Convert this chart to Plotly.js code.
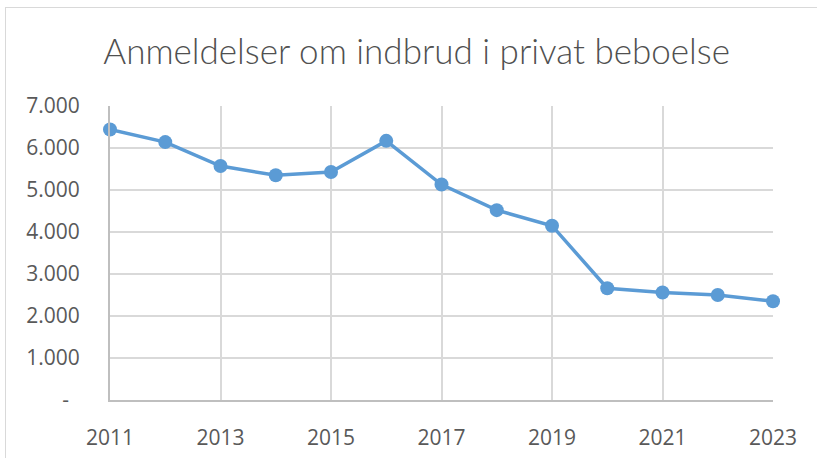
<!DOCTYPE html>
<html>
<head>
<meta charset="utf-8">
<script src="https://cdn.plot.ly/plotly-3.0.1.min.js"></script>
<style>
  html, body { margin: 0; padding: 0; background: #fff; overflow: hidden; }
  #frame { position: absolute; left: 5px; top: 7px; width: 830px; height: 470px; border: 1px solid #d9d9d9; box-sizing: border-box; pointer-events: none; z-index: 2; }
  #chart { position: absolute; left: 0; top: 0; width: 817px; height: 458px; }
</style>
</head>
<body>
<div id="chart"></div>
<div id="frame"></div>
<script>
const years = [2011, 2012, 2013, 2014, 2015, 2016, 2017, 2018, 2019, 2020, 2021, 2022, 2023];
const reports = [6440, 6140, 5570, 5350, 5430, 6170, 5130, 4520, 4150, 2660, 2560, 2500, 2350];
const xTickVals = [2011, 2013, 2015, 2017, 2019, 2021, 2023];
const yTickVals = [0, 1000, 2000, 3000, 4000, 5000, 6000, 7000];
const yTickText = ['-\u00a0\u00a0', '1.000', '2.000', '3.000', '4.000', '5.000', '6.000', '7.000'];
const titleText = 'Anmeldelser om indbrud i privat beboelse';

const tickFont = '"Open Sans", "Liberation Sans", sans-serif';
const titleFont = 'Lato, "Open Sans", sans-serif';

Plotly.newPlot('chart', [{
  x: years,
  y: reports,
  type: 'scatter',
  mode: 'lines+markers',
  line: { color: '#5B9BD5', width: 3.5 },
  marker: { color: '#5B9BD5', size: 14 },
  cliponaxis: false,
  hoverinfo: 'x+y'
}], {
  width: 817,
  height: 458,
  margin: { l: 110, r: 44, t: 106, b: 58 },
  paper_bgcolor: '#ffffff',
  plot_bgcolor: '#ffffff',
  showlegend: false,
  title: {
    text: titleText,
    font: { family: titleFont, size: 35, color: '#505050', weight: 300 },
    x: 0.51, xanchor: 'center',
    y: 0.888, yanchor: 'middle'
  },
  xaxis: {
    range: [2011, 2023],
    tickvals: xTickVals,
    ticktext: xTickVals.map(String),
    showgrid: true,
    gridcolor: '#d9d9d9',
    gridwidth: 2,
    showline: true,
    linecolor: '#bfbfbf',
    linewidth: 2,
    ticks: '',
    ticklen: 0,
    ticklabelstandoff: 18,
    tickfont: { family: tickFont, size: 21, color: '#595959' },
    zeroline: false,
    fixedrange: true
  },
  yaxis: {
    range: [0, 7000],
    tickvals: yTickVals,
    ticktext: yTickText,
    showgrid: true,
    gridcolor: '#d9d9d9',
    gridwidth: 2,
    showline: true,
    linecolor: '#bfbfbf',
    linewidth: 2,
    ticks: '',
    ticklabelstandoff: 24,
    tickfont: { family: tickFont, size: 21, color: '#595959' },
    zeroline: false,
    fixedrange: true
  }
}, { displayModeBar: false, staticPlot: true });
</script>
</body>
</html>
